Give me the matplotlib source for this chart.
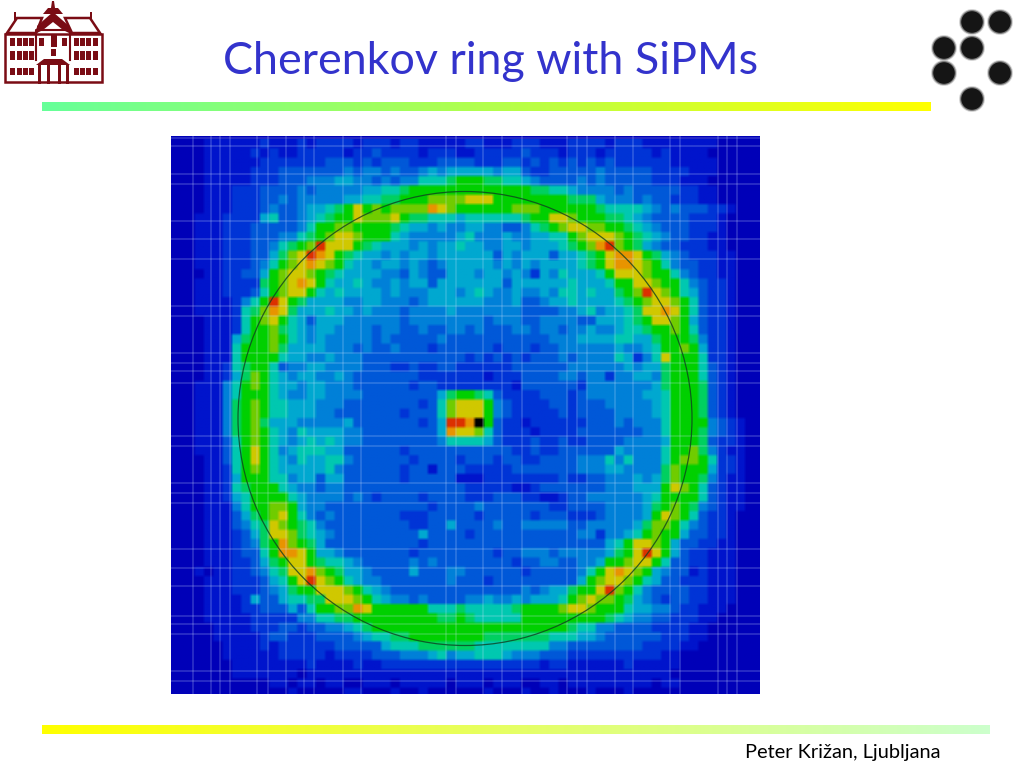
import matplotlib
matplotlib.use("Agg")
import numpy as np
from matplotlib import pyplot as plt
from matplotlib.colors import ListedColormap, LinearSegmentedColormap
from matplotlib.patches import Circle, Rectangle, Polygon

# Hit map, one hex digit per cell (colour level 0-13)
hit_rows = [
    "00001111 11211121 22221222 12211111 22111222 11122221 22211111 11100000",
    "00001111 12121122 22212232 22212221 12222232 22122212 22221211 11000000",
    "00001111 11222222 23332323 33222333 32223323 23232323 22222211 11100000",
    "00001111 12223333 33343443 43345455 55545532 23333343 33332222 11100000",
    "00001111 12223334 44554434 34466678 88776654 33334343 33332221 11000000",
    "00001112 22333343 44444556 67888888 88888887 76654444 34333332 21100000",
    "00001112 22334344 44455667 78889999 aaa88888 88877754 44343322 21100000",
    "00001112 22343345 5678a898 9999ba98 88888999 88888876 66654343 33221000",
    "00011122 22563345 6788a999 a8776665 66666678 8aa98887 76543333 22210000",
    "00011122 23333346 88998888 76554544 55443346 789aa998 87654333 22210000",
    "00011122 23334467 89aa9888 65444445 64445445 56689aaa 98765433 22110000",
    "00011122 23346789 caaa8765 55454556 55445545 556789bc 98754332 22110000",
    "00011122 233579ac ba876554 54554555 55535455 5355678a bba87543 22211000",
    "00011122 234689ab a9865545 54543455 55545454 5555678a bba98643 32211000",
    "00001122 33589aa9 87655554 43543355 54554542 54655568 aaa98864 32211000",
    "00011122 22789aba 86556544 54553555 55553555 55565556 88aa9886 43221000",
    "00011122 23689aa8 65655554 54445554 56544544 54665655 789ca986 53221000",
    "00011112 468ca875 55544554 44345555 55444533 45565555 6789aa98 63221000",
    "00011112 679ba755 56554544 43444454 44444433 33445645 567aaba8 63221000",
    "00001112 689a8653 55544444 43444444 44344433 44443355 5678aa98 53221000",
    "00001112 68897654 55444434 43343344 34333443 44344544 56678898 63221000",
    "00001115 78898654 54444434 33333433 33333333 34445555 66557888 74221000",
    "00001116 88897555 54443433 43332333 33323332 33444444 54456889 85221000",
    "00001116 88886554 45444333 33333333 23232323 33434444 65246a88 86221000",
    "00001126 78863445 54444333 22322332 22222333 33344444 45455788 86321000",
    "00001125 79865455 44543333 33322222 22122233 33443442 44554788 86321000",
    "00011146 89865545 54443333 33233222 22222133 33332444 44445788 87321000",
    "00011146 88865445 54444333 33333578 87632222 33323444 44455688 87321000",
    "00011147 89866555 44433333 3332369a aa843222 23323334 44445688 87321000",
    "00011147 89866555 44333333 3233369a aa843222 22323333 44445688 87321000",
    "00011147 89755544 44453333 333235cc bd832212 22222333 43444688 88432100",
    "00011147 89865465 55544333 333335ba a9632221 22223333 33344688 87432100",
    "00011136 89865456 56544333 33333466 66532223 22322333 34444588 87322100",
    "00011136 8a864566 65533333 32333333 33333223 22333333 54444688 97421100",
    "00001136 8a865465 56643333 33233332 33323322 33334446 46444689 98622100",
    "00001126 89865555 56433333 32331333 22222333 33334445 54444798 88522100",
    "00001125 88866455 35533333 32333331 11222222 22322334 44545798 87421100",
    "00001126 78886544 34433333 33333333 22222112 33333334 445558a9 86321100",
    "00001125 68888654 44434323 33323333 22233322 11233444 44456888 86321100",
    "00001114 68899854 43333333 33332333 34333333 32233334 44457898 74321100",
    "00001113 5789a864 34333333 32223333 32333332 33322234 44458a98 63221000",
    "00001113 467a9876 43333333 33223353 33343344 44433444 44579986 43221000",
    "00001112 357aa976 54333333 33353333 23333333 33334424 45689885 33221000",
    "00001112 3478b987 53333333 33323333 33333333 33333335 68aa9853 32211000",
    "00001112 3368bba8 55433333 33233333 33323344 43444445 78aca853 22111000",
    "00001112 23578aa8 76654333 33434333 33333233 44334458 89aa8633 22111000",
    "00010112 23467aab 98755433 33533344 33333323 3333468a ba985433 12111000",
    "00001112 223568ac a9865443 33333343 33233333 3333589a a9865332 22111000",
    "00001112 22345788 aaa98654 33333333 33333343 455788ac 98643333 22111000",
    "00001111 25335667 7aaa9865 44343333 44544545 55689a99 87543233 22111000",
    "00001111 22333536 8899ba88 88886667 66666788 889aa988 86554432 21110000",
    "00001111 12222244 66778888 88888778 76666688 88888887 65443322 21100000",
    "00000111 12223323 34456788 88888888 88888888 88876644 33332222 11000000",
    "00000111 11233222 33334566 77888888 88777777 76665543 33333222 11000000",
    "00000011 11212222 22333335 66677777 76666666 64433333 33322221 10000000",
    "00000011 11112222 21222233 34445645 56665444 33322222 22222110 00000000",
    "00000001 11111112 11112112 22222222 22222222 12211111 12111110 00000000",
    "00000001 11111101 11111111 11111111 11111111 11111111 11111100 00000000",
    "00000000 00011011 01100111 01111101 11011100 11011111 11110110 00000000",
    "00000000 00000100 00011000 10010000 00100010 01000100 01000000 00000000",
]
level_colors = ["#0000b8", "#0014cc", "#0034d6", "#0058d8", "#0080d8", "#00a8d0", "#00c8b0",
                "#00d060", "#00d000", "#70cc00", "#d0c800", "#e89400", "#dc3000", "#000000"]
title_text = "Cherenkov ring with SiPMs"
footer_text = "Peter Križan, Ljubljana"
# light seams of the detector, in page pixels
seam_x = [193, 211, 220, 230, 257, 268, 286, 304, 314, 343, 361, 446, 456,
          483, 502, 522, 567, 577, 587, 615, 633, 670, 680, 718, 727, 737]
seam_y = [138, 146, 174, 184, 221, 239, 259, 306, 316, 353, 363, 371, 383,
          436, 446, 483, 493, 503, 549, 568, 586, 616, 624, 634, 671, 681]

hits = np.array([[int(c, 16) for c in r.replace(" ", "")] for r in hit_rows])

fig = plt.figure(figsize=(10.24, 7.68), dpi=100, facecolor="white")

# heat map axes, page pixels; the outer cells are clipped like in the picture
ax = fig.add_axes([171 / 1024, 1 - 694 / 768, 589 / 1024, 558 / 768])
ax.add_patch(Rectangle((171, 136), 589, 558, color=level_colors[0], lw=0, zorder=0))
# repeat the cells so bilinear only softens their edges, the source is a blurry jpeg
cells = np.repeat(np.repeat(hits, 3, axis=0), 3, axis=1)
ax.imshow(ListedColormap(level_colors)(cells), aspect="auto", interpolation="bilinear",
          extent=(166.6, 166.6 + 9.33 * hits.shape[1], 139 + 9.3 * hits.shape[0], 139), zorder=1)
ax.set_xlim(171, 760)
ax.set_ylim(694, 136)
ax.axis("off")
ax.vlines(seam_x, 136, 694, color="#cfe4ff", alpha=0.22, lw=1.2, zorder=2)
ax.hlines(seam_y, 171, 760, color="#cfe4ff", alpha=0.22, lw=1.2, zorder=2)
ax.add_patch(Circle((465, 418.5), 227, fill=False, ec="#104020", alpha=0.8, lw=0.9, zorder=3))

# everything else is placed in page pixels
page = fig.add_axes([0, 0, 1, 1], facecolor="none")


def gradient_bar(x0, x1, y0, y1, c0, c1):
    cm = LinearSegmentedColormap.from_list("bar", [c0, c1])
    page.imshow(np.linspace(0, 1, 256)[None, :], cmap=cm, aspect="auto", extent=(x0, x1, y1, y0))


gradient_bar(42, 931, 102, 111, "#66ff99", "#ffff00")
gradient_bar(42, 990, 725, 734, "#ffff00", "#ccffcc")

page.text(491, 73.5, title_text, color="#3333cc", fontsize=32.3, family="Lato", ha="center", va="baseline")
page.text(842.5, 758, footer_text, color="black", fontsize=14.4, family="Lato", ha="center", va="baseline")

# right logo
for cx, cy in [(972, 22), (1000, 22), (944, 48), (972, 48), (944, 73), (1000, 73), (972, 99)]:
    page.add_patch(Circle((cx, cy), 13, color="#777777", alpha=0.3, lw=0))
    page.add_patch(Circle((cx, cy), 12, color="#444444", alpha=0.6, lw=0))
    page.add_patch(Circle((cx, cy), 10.8, color="#151515", lw=0))

# left logo, a small drawing of the faculty building
maroon = "#7a0c14"
page.add_patch(Rectangle((5, 34), 97, 48, fill=False, ec=maroon, lw=1.8))
page.add_patch(Polygon([(7, 33), (17, 18), (42, 18), (36, 33)], fill=False, ec=maroon, lw=1.8))
page.add_patch(Polygon([(100, 33), (90, 18), (65, 18), (72, 33)], fill=False, ec=maroon, lw=1.8))
page.add_patch(Polygon([(37, 33), (37, 26), (53, 12), (69, 26), (69, 33), (63, 30), (53, 22), (43, 30)], color=maroon, lw=0))
page.add_patch(Polygon([(43, 14), (48, 8), (51, 8), (52, 1), (54, 1), (55, 8), (58, 8), (63, 14)], color=maroon, lw=0))
page.add_patch(Rectangle((14, 12), 2, 8, color=maroon, lw=0))
page.add_patch(Rectangle((90, 12), 2, 8, color=maroon, lw=0))
page.plot([36, 36, 70, 70], [60, 30, 30, 60], color=maroon, lw=1.5)
for wy, wh in [(38, 8), (51, 9), (68, 7)]:
    for wx in [10, 17, 23, 29, 74, 80, 86, 93]:
        page.add_patch(Rectangle((wx, wy), 4.5, wh, color=maroon, lw=0))
page.add_patch(Rectangle((39, 38), 5, 8, color=maroon, lw=0))
page.add_patch(Rectangle((62, 38), 5, 8, color=maroon, lw=0))
page.add_patch(Rectangle((51, 35), 6, 12, color=maroon, lw=0))
page.add_patch(Rectangle((51, 49), 5, 7, color=maroon, lw=0))
page.add_patch(Polygon([(36, 65), (44, 59), (62, 59), (70, 65)], color=maroon, lw=0))
for dx in [38, 47, 58, 66]:
    page.add_patch(Rectangle((dx, 65), 3, 19, color=maroon, lw=0))

page.set_xlim(0, 1024)
page.set_ylim(768, 0)
page.axis("off")

plt.savefig("out.png", dpi=100)
